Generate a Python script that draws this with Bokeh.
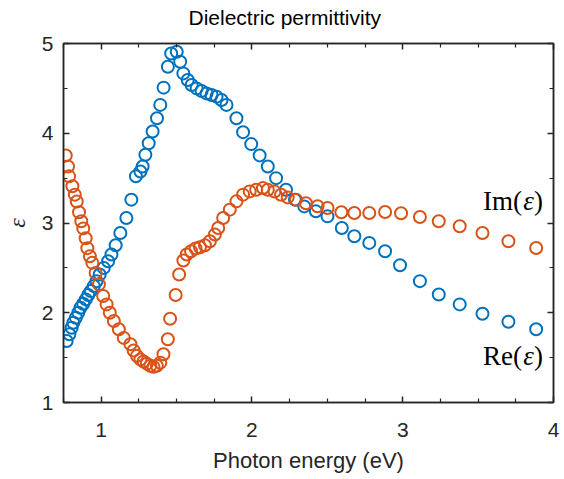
from bokeh.plotting import figure
from bokeh.models import Range1d, LinearAxis, FixedTicker, ColumnDataSource, CustomLabelingPolicy
from bokeh.core.properties import value
from bokeh.embed import file_html
from bokeh.resources import INLINE

# ---- data ----
re_energy = [0.771, 0.789, 0.804, 0.815, 0.832, 0.848, 0.863, 0.881, 0.898, 0.914,
             0.931, 0.951, 0.969, 0.990, 1.017, 1.046, 1.068, 1.096, 1.127, 1.167,
             1.200, 1.230, 1.260, 1.275, 1.293, 1.315, 1.341, 1.370, 1.392, 1.414,
             1.442, 1.464, 1.501, 1.524, 1.545, 1.574, 1.600, 1.633, 1.666, 1.699,
             1.732, 1.765, 1.798, 1.831, 1.897, 1.941, 1.995, 2.051, 2.105, 2.160,
             2.226, 2.285, 2.347, 2.424, 2.501, 2.596, 2.679, 2.778, 2.883, 2.982,
             3.114, 3.239, 3.378, 3.529, 3.701, 3.885]
re_values = [1.686, 1.760, 1.833, 1.889, 1.944, 2.000, 2.056, 2.100, 2.149, 2.197,
             2.241, 2.297, 2.352, 2.427, 2.500, 2.574, 2.649, 2.752, 2.889, 3.056,
             3.260, 3.520, 3.574, 3.630, 3.760, 3.889, 4.019, 4.167, 4.316, 4.508,
             4.741, 4.889, 4.908, 4.797, 4.667, 4.593, 4.538, 4.500, 4.471, 4.444,
             4.427, 4.408, 4.371, 4.316, 4.167, 4.012, 3.879, 3.753, 3.630, 3.500,
             3.370, 3.260, 3.185, 3.130, 3.074, 2.945, 2.852, 2.778, 2.686, 2.530,
             2.352, 2.204, 2.093, 1.989, 1.900, 1.816]

im_energy = [0.765, 0.780, 0.787, 0.809, 0.825, 0.838, 0.853, 0.868, 0.881, 0.897,
             0.908, 0.925, 0.941, 0.963, 0.985, 1.013, 1.036, 1.057, 1.084, 1.117,
             1.150, 1.194, 1.215, 1.237, 1.260, 1.281, 1.303, 1.326, 1.347, 1.369,
             1.392, 1.413, 1.442, 1.457, 1.494, 1.517, 1.545, 1.567, 1.596, 1.626,
             1.655, 1.688, 1.721, 1.754, 1.776, 1.809, 1.853, 1.897, 1.941, 1.985,
             2.028, 2.073, 2.105, 2.150, 2.193, 2.237, 2.292, 2.358, 2.435, 2.501,
             2.593, 2.679, 2.778, 2.883, 2.989, 3.114, 3.239, 3.378, 3.529, 3.701,
             3.885]
im_values = [3.752, 3.630, 3.520, 3.410, 3.316, 3.240, 3.120, 3.020, 2.940, 2.830,
             2.720, 2.630, 2.556, 2.444, 2.316, 2.186, 2.093, 2.000, 1.908, 1.816,
             1.720, 1.650, 1.580, 1.520, 1.480, 1.456, 1.433, 1.410, 1.397, 1.410,
             1.444, 1.538, 1.704, 1.933, 2.197, 2.427, 2.582, 2.649, 2.686, 2.716,
             2.730, 2.752, 2.797, 2.871, 2.944, 3.056, 3.149, 3.241, 3.316, 3.352,
             3.371, 3.389, 3.370, 3.350, 3.315, 3.285, 3.260, 3.220, 3.186, 3.167,
             3.120, 3.111, 3.111, 3.122, 3.108, 3.067, 3.019, 2.963, 2.889, 2.797,
             2.722]

x_major = [1, 2, 3, 4]
x_minor = [0.75, 1.25, 1.5, 1.75, 2.25, 2.5, 2.75, 3.25, 3.5, 3.75]
y_major = [1, 2, 3, 4, 5]
y_minor = [1.5, 2.5, 3.5, 4.5]

label_prefix = ["Im(", "Re("]
label_symbol = ["ε", "ε"]
label_suffix = [")", ")"]
label_x = [3.93, 3.93]
label_y = [3.25, 1.52]

BLUE = "#0072BD"
ORANGE = "#D95319"
AX = "#262626"

p = figure(width=562, height=479,
           x_range=Range1d(0.75, 4), y_range=Range1d(1, 5),
           output_backend="svg", toolbar_location=None,
           min_border_left=63, min_border_right=5, min_border_top=42, min_border_bottom=77,
           x_axis_label="Photon energy (eV)", y_axis_label="ε")
p.background_fill_color = "white"
p.border_fill_color = "white"
p.grid.visible = False
p.outline_line_color = AX
p.outline_line_width = 1.5

p.title.text = "Dielectric permittivity"
p.title.align = "left"
p.title.offset = 125
p.title.text_font = "Liberation Sans"
p.title.text_font_size = "21px"
p.title.text_font_style = "normal"
p.title.text_color = "black"
p.title.standoff = 7


def style_axis(ax):
    ax.axis_line_color = AX
    ax.axis_line_width = 1.5
    ax.major_tick_line_color = AX
    ax.minor_tick_line_color = AX
    ax.major_tick_line_width = 1.5
    ax.minor_tick_line_width = 1.2
    ax.major_tick_in = 6
    ax.major_tick_out = 0
    ax.minor_tick_in = 4
    ax.minor_tick_out = 0


for ax in (p.xaxis[0], p.yaxis[0]):
    style_axis(ax)
    ax.major_label_text_font = "Liberation Sans"
    ax.major_label_text_font_size = "21px"
    ax.major_label_text_color = AX
    ax.axis_label_text_color = AX
    ax.axis_label_text_font_style = "normal"

p.xaxis[0].ticker = FixedTicker(ticks=x_major, minor_ticks=x_minor)
p.yaxis[0].ticker = FixedTicker(ticks=y_major, minor_ticks=y_minor)
p.xaxis[0].major_label_standoff = 20
p.xaxis[0].axis_label_standoff = 8
p.xaxis[0].axis_label_text_font = "Liberation Sans"
p.xaxis[0].axis_label_text_font_size = "22px"
p.yaxis[0].major_label_standoff = 10
p.yaxis[0].axis_label_standoff = 9
p.yaxis[0].axis_label_text_font = "Liberation Serif"
p.yaxis[0].axis_label_text_font_size = "24px"
p.yaxis[0].axis_label_text_font_style = "italic"

top = LinearAxis(ticker=FixedTicker(ticks=x_major, minor_ticks=x_minor))
right = LinearAxis(ticker=FixedTicker(ticks=y_major, minor_ticks=y_minor))
for ax in (top, right):
    style_axis(ax)
    ax.major_label_policy = CustomLabelingPolicy(code="return []")
    ax.major_label_standoff = 0
p.add_layout(top, "above")
p.add_layout(right, "right")

p.scatter(re_energy, re_values, marker="circle", size=12, fill_color=None,
          line_color=BLUE, line_width=2)
p.scatter(im_energy, im_values, marker="circle", size=12, fill_color=None,
          line_color=ORANGE, line_width=2)

src = ColumnDataSource(dict(x=label_x, y=label_y, pre=label_prefix,
                            sym=label_symbol, suf=label_suffix))
common = dict(source=src, text_align="right", text_baseline="middle",
              text_font=value("Liberation Serif"), text_font_size="27px",
              text_color="black")
p.text(x="x", y="y", text="suf", **common)
p.text(x="x", y="y", text="sym", x_offset=-9, text_font_style="italic", **common)
p.text(x="x", y="y", text="pre", x_offset=-21, **common)

open("out.html", "w").write(file_html(p, INLINE))
